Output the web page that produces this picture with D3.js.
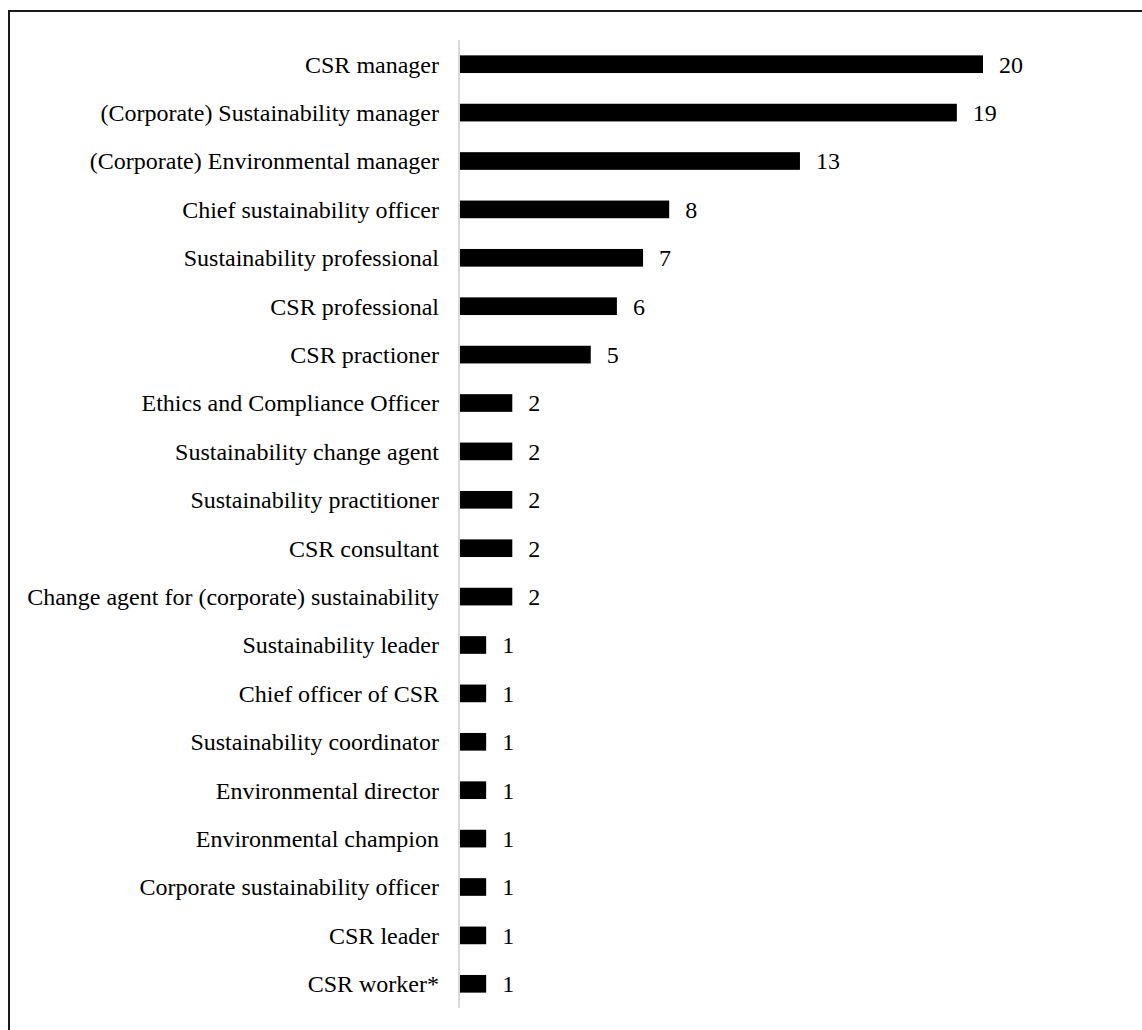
<!DOCTYPE html>
<html>
<head>
<meta charset="utf-8">
<script src="https://cdn.jsdelivr.net/npm/d3@7"></script>
<style>
  html, body { margin: 0; padding: 0; background: #fff; }
  svg { display: block; }
</style>
</head>
<body>
<div id="chart"></div>
<script>
// Job titles and number of mentions
const titles = [
  "CSR manager",
  "(Corporate) Sustainability manager",
  "(Corporate) Environmental manager",
  "Chief sustainability officer",
  "Sustainability professional",
  "CSR professional",
  "CSR practioner",
  "Ethics and Compliance Officer",
  "Sustainability change agent",
  "Sustainability practitioner",
  "CSR consultant",
  "Change agent for (corporate) sustainability",
  "Sustainability leader",
  "Chief officer of CSR",
  "Sustainability coordinator",
  "Environmental director",
  "Environmental champion",
  "Corporate sustainability officer",
  "CSR leader",
  "CSR worker*"
];
const counts = [20, 19, 13, 8, 7, 6, 5, 2, 2, 2, 2, 2, 1, 1, 1, 1, 1, 1, 1, 1];

const W = 1142, H = 1030;
const svg = d3.select("#chart").append("svg")
  .attr("width", W).attr("height", H);

// Outer frame (open on the right and bottom edges)
svg.append("rect")
  .attr("x", 9).attr("y", 11)
  .attr("width", W + 20).attr("height", H + 20)
  .attr("fill", "none")
  .attr("stroke", "#1a1a1a")
  .attr("stroke-width", 2);

const x = d3.scaleLinear().domain([0, 20]).range([460, 983]);
const y = d3.scaleBand()
  .domain(titles)
  .range([40, 1008])
  .paddingInner(0.635)
  .paddingOuter(0.3175);

const font = "'Liberation Serif', 'Times New Roman', serif";

// Category axis: light vertical rule with labels to its left
const yAxis = d3.axisLeft(y).tickSize(0).tickPadding(20);
const gy = svg.append("g")
  .attr("transform", "translate(459,0)")
  .call(yAxis);
gy.select(".domain")
  .attr("stroke", "#d9d9d9")
  .attr("stroke-width", 2)
  .attr("d", `M0,${y.range()[0]}V${y.range()[1]}`);
gy.selectAll("text")
  .attr("font-family", font)
  .attr("font-size", 24)
  .attr("fill", "#000")
  .attr("dy", "0.35em");

const data = titles.map((t, i) => ({ title: t, value: counts[i] }));

svg.append("g").selectAll("rect")
  .data(data)
  .join("rect")
  .attr("x", x(0))
  .attr("y", d => y(d.title))
  .attr("width", d => x(d.value) - x(0))
  .attr("height", y.bandwidth())
  .attr("fill", "#000");

svg.append("g").selectAll("text")
  .data(data)
  .join("text")
  .attr("x", d => x(d.value) + 16)
  .attr("y", d => y(d.title) + y.bandwidth() / 2)
  .attr("dy", "0.35em")
  .attr("font-family", font)
  .attr("font-size", 24)
  .attr("fill", "#000")
  .text(d => d.value);
</script>
</body>
</html>
